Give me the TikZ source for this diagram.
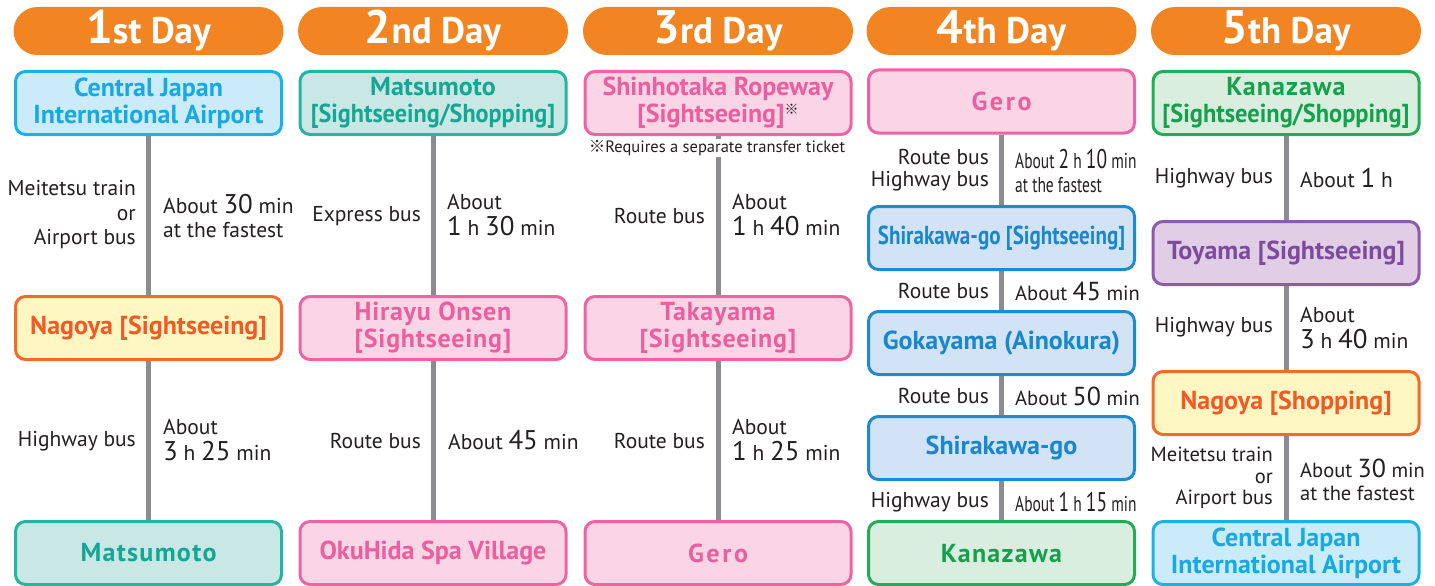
\documentclass[tikz,border=0pt]{standalone}
\usepackage{fontspec}
\setmainfont{PT Sans}
\newfontfamily\cjk{Noto Sans CJK JP}
\newfontfamily\condfont[FakeStretch=0.72]{PT Sans}
\usetikzlibrary{backgrounds,calc}
\definecolor{hdrorange}{HTML}{F28422}
\definecolor{linegray}{HTML}{8C8C90}
\definecolor{txtblack}{HTML}{231F20}
\definecolor{cyanF}{HTML}{CCEBF9}\definecolor{cyanD}{HTML}{1CB1E6}\definecolor{cyanT}{HTML}{17A9E1}
\definecolor{yelF}{HTML}{FFF7C2}\definecolor{yelD}{HTML}{F26B2A}\definecolor{yelT}{HTML}{F05A28}
\definecolor{tealF}{HTML}{C9E7E4}\definecolor{tealD}{HTML}{25B3A3}\definecolor{tealT}{HTML}{13A794}
\definecolor{pinkF}{HTML}{F9D5E6}\definecolor{pinkD}{HTML}{EE64A2}\definecolor{pinkT}{HTML}{EC5E9D}
\definecolor{bluF}{HTML}{D2E3F5}\definecolor{bluD}{HTML}{1E8BD0}\definecolor{bluT}{HTML}{1A86CC}
\definecolor{grnF}{HTML}{D9EEDF}\definecolor{grnD}{HTML}{22AC55}\definecolor{grnT}{HTML}{14A04C}
\definecolor{purF}{HTML}{E1CDE6}\definecolor{purD}{HTML}{8C5BAB}\definecolor{purT}{HTML}{7B4C9E}
\newcommand\hdrfont{\fontsize{37}{37}\selectfont\bfseries}
\newcommand\hdrnum[1]{{\fontsize{47}{47}\selectfont #1}}
\newcommand\titlefont{\fontsize{26}{27}\selectfont\bfseries}
\newcommand\labfont{\fontsize{21.5}{24.5}\selectfont}
\newcommand\bignum[1]{{\fontsize{27}{27}\selectfont #1}}
\newcommand\kome{\raisebox{8pt}{\color{txtblack}\cjk\fontsize{14}{14}\selectfont ※}}
\newcommand\sqz[2]{\scalebox{#1}[1]{#2}}
\tikzset{
  hdr/.style={fill=hdrorange, rounded corners=24pt, minimum width=270pt, minimum height=48pt,
    inner sep=0pt, text=white, font=\hdrfont},
  place/.style={draw, line width=3pt, rounded corners=10pt, minimum width=266pt,
    minimum height=63pt, align=center, inner sep=0pt, font=\titlefont},
  spaced/.style={font=\titlefont\addfontfeature{LetterSpace=#1}},
  cyanbox/.style={place, draw=cyanD, fill=cyanF, text=cyanT},
  yelbox/.style={place, draw=yelD, fill=yelF, text=yelT},
  tealbox/.style={place, draw=tealD, fill=tealF, text=tealT},
  pinkbox/.style={place, draw=pinkD, fill=pinkF, text=pinkT},
  blubox/.style={place, draw=bluD, fill=bluF, text=bluT},
  grnbox/.style={place, draw=grnD, fill=grnF, text=grnT},
  purbox/.style={place, draw=purD, fill=purF, text=purT},
  conn/.style={draw=linegray, line width=5pt},
  lab/.style={anchor=east, align=right, inner sep=0pt, text=txtblack, font=\labfont},
  tim/.style={anchor=west, align=left, inner sep=0pt, text=txtblack, font=\labfont},
  stim/.style={tim, font=\fontsize{20.5}{23}\selectfont},
  ctim/.style={tim, font=\labfont\condfont},
  note/.style={fill=white, inner sep=1pt, text=txtblack, font=\fontsize{16.5}{16.5}\selectfont}
}
\begin{document}
\begin{tikzpicture}[x=1pt,y=-1pt]
\useasboundingbox (0,0) rectangle (1435,586);
% headers
\node[hdr] (h1) at (148.5,31) {\hdrnum{1}st Day};
\node[hdr] (h2) at (433,31) {\hdrnum{2}nd Day};
\node[hdr] (h3) at (718,31) {\hdrnum{3}rd Day};
\node[hdr] (h4) at (1001.5,31) {\hdrnum{4}th Day};
\node[hdr] (h5) at (1286,31) {\hdrnum{5}th Day};
% column 1
\node[cyanbox] (a1) at (148.5,103) {Central Japan\\International Airport};
\node[yelbox] (a2) at (148.5,328) {Nagoya [Sightseeing]};
\node[tealbox, spaced=5] (a3) at (148.5,553) {Matsumoto};
\node[lab] (l1a) at (136,215) {Meitetsu train\\or\\Airport bus};
\node[tim] (t1a) at (163,216) {About \bignum{30} min\\at the fastest};
\node[lab] (l1b) at (136,441) {Highway bus};
\node[tim] (t1b) at (163,440) {About\\[2pt]\bignum{3} h \bignum{25} min};
% column 2
\node[tealbox] (b1) at (433,103) {Matsumoto\\\sqz{0.93}{[Sightseeing/Shopping]}};
\node[pinkbox, spaced=3] (b2) at (433,328) {Hirayu Onsen\\{}[Sightseeing]};
\node[pinkbox] (b3) at (433,553) {OkuHida Spa Village};
\node[lab] (l2a) at (421,216) {Express bus};
\node[tim] (t2a) at (447,215) {About\\[2pt]\bignum{1} h \bignum{30} min};
\node[lab] (l2b) at (421,441) {Route bus};
\node[tim] (t2b) at (448,440) {About \bignum{45} min};
% column 3
\node[pinkbox] (c1) at (718,103) {Shinhotaka Ropeway\\{}[Sightseeing]\kome};
\node[note] (n3) at (717,148) {{\cjk ※}Requires a separate transfer ticket};
\node[pinkbox, spaced=3] (c2) at (718,328) {Takayama\\{}[Sightseeing]};
\node[pinkbox, spaced=10] (c3) at (718,553) {Gero};
\node[lab] (l3a) at (705,216) {Route bus};
\node[tim] (t3a) at (732,215) {About\\[2pt]\bignum{1} h \bignum{40} min};
\node[lab] (l3b) at (705,441) {Route bus};
\node[tim] (t3b) at (732,440) {About\\[2pt]\bignum{1} h \bignum{25} min};
% column 4
\node[pinkbox, spaced=10] (d1) at (1001.5,101.5) {Gero};
\node[blubox] (d2) at (1001.5,238) {\sqz{0.81}{Shirakawa-go [Sightseeing]}};
\node[blubox] (d3) at (1001.5,343) {Gokayama (Ainokura)};
\node[blubox] (d4) at (1001.5,448) {Shirakawa-go};
\node[grnbox, spaced=5] (d5) at (1001.5,553) {Kanazawa};
\node[lab, font=\fontsize{21.5}{22}\selectfont] (l4a) at (989,170) {Route bus\\Highway bus};
\node[ctim, font=\fontsize{21.5}{24}\selectfont\condfont] (t4a) at (1015,171) {About \bignum{2} h \bignum{10} min\\at the fastest};
\node[lab] (l4b) at (989,291) {Route bus};
\node[stim] (t4b) at (1015,291) {About {\fontsize{26}{26}\selectfont 45} min};
\node[lab] (l4c) at (989,396) {Route bus};
\node[stim] (t4c) at (1015,396) {About {\fontsize{26}{26}\selectfont 50} min};
\node[lab] (l4d) at (989,502) {Highway bus};
\node[ctim] (t4d) at (1015,502) {About \bignum{1} h \bignum{15} min};
% column 5
\node[grnbox] (e1) at (1286,103) {\addfontfeature{LetterSpace=4}Kanazawa\\\sqz{0.94}{[Sightseeing/Shopping]}};
\node[purbox] (e2) at (1286,253) {Toyama [Sightseeing]};
\node[yelbox] (e3) at (1286,403) {Nagoya [Shopping]};
\node[cyanbox] (e4) at (1286,553) {Central Japan\\International Airport};
\node[lab] (l5a) at (1273,178) {Highway bus};
\node[tim] (t5a) at (1300,178) {About \bignum{1} h};
\node[lab] (l5b) at (1273,327) {Highway bus};
\node[tim] (t5b) at (1300,328) {About\\[2pt]\bignum{3} h \bignum{40} min};
\node[lab, font=\fontsize{20.5}{21.5}\selectfont] (l5c) at (1273,478) {Meitetsu train\\or\\Airport bus};
\node[stim] (t5c) at (1300,480) {About {\fontsize{26}{26}\selectfont 30} min\\at the fastest};
% connectors
\begin{scope}[on background layer]
\draw[conn] (a1) -- (a2); \draw[conn] (a2) -- (a3);
\draw[conn] (b1) -- (b2); \draw[conn] (b2) -- (b3);
\draw[conn] (c1) -- (c2); \draw[conn] (c2) -- (c3);
\draw[conn] (d1) -- (d2); \draw[conn] (d2) -- (d3); \draw[conn] (d3) -- (d4); \draw[conn] (d4) -- (d5);
\draw[conn] (e1) -- (e2); \draw[conn] (e2) -- (e3); \draw[conn] (e3) -- (e4);
\end{scope}
\end{tikzpicture}
\end{document}
